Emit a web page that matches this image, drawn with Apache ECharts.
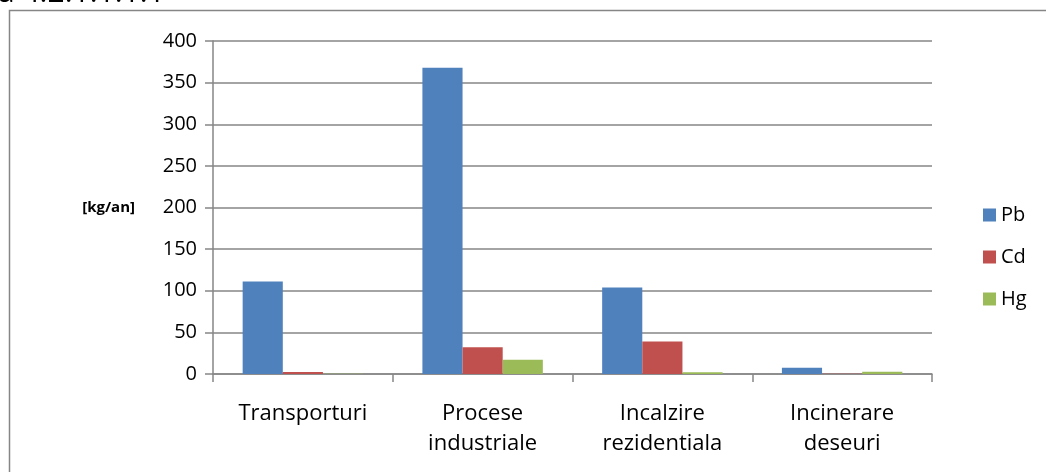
<!DOCTYPE html>
<html>
<head>
<meta charset="utf-8">
<script src="https://cdn.jsdelivr.net/npm/echarts@6/dist/echarts.min.js"></script>
<style>
  html, body { margin: 0; padding: 0; background: #fff; }
  #chart { width: 1046px; height: 472px; }
</style>
</head>
<body>
<div id="chart"></div>
<script>
// Emisii de metale grele pe categorii de surse [kg/an]
const categories = ['Transporturi', 'Procese\nindustriale', 'Incalzire\nrezidentiala', 'Incinerare\ndeseuri'];
const pb = [111, 368, 104, 7.5];
const cd = [2.4, 32, 39, 0.3];
const hg = [0.2, 17, 2, 2.8];
const seriesNames = ['Pb', 'Cd', 'Hg'];
const yTicks = { min: 0, max: 400, interval: 50 };

const axisGray = '#868686';
const font = '"Open Sans", Lato, sans-serif';

const chart = echarts.init(document.getElementById('chart'), null, { renderer: 'canvas' });

chart.setOption({
  animation: false,
  backgroundColor: '#fff',
  textStyle: { fontFamily: font },
  graphic: [
    {
      type: 'rect',
      shape: { x: 9.5, y: 10.5, width: 1100, height: 500 },
      style: { fill: 'none', stroke: axisGray, lineWidth: 1.5 },
      silent: true
    },
    {
      type: 'text',
      left: -2,
      top: -22,
      style: { text: 'a 4.2.1.1.1.1', font: '30px ' + font, fill: '#000' },
      silent: true
    }
  ],
  grid: { left: 213, right: 114, top: 41, bottom: 98, containLabel: false },
  legend: {
    orient: 'vertical',
    left: 978,
    top: 196,
    itemWidth: 13,
    itemHeight: 13,
    itemGap: 14,
    icon: 'rect',
    data: seriesNames,
    textStyle: { fontSize: 20, color: '#000', fontFamily: font, padding: [0, 0, 0, 0], lineHeight: 28 }
  },
  xAxis: {
    type: 'category',
    data: categories,
    boundaryGap: true,
    axisLine: { show: true, lineStyle: { color: axisGray, width: 1.5 } },
    axisTick: { show: true, length: 8, alignWithLabel: false, lineStyle: { color: axisGray, width: 1.5 } },
    axisLabel: { fontSize: 22, color: '#000', margin: 25, lineHeight: 30, fontFamily: font, interval: 0 }
  },
  yAxis: {
    type: 'value',
    min: yTicks.min,
    max: yTicks.max,
    interval: yTicks.interval,
    name: '[kg/an]',
    nameLocation: 'middle',
    nameRotate: 0,
    nameGap: 78,
    nameTextStyle: { fontSize: 15, fontWeight: 'bold', color: '#000', align: 'right', verticalAlign: 'middle', fontFamily: font, padding: [10, 0, 0, 0] },
    axisLine: { show: true, lineStyle: { color: axisGray, width: 1.5 } },
    axisTick: { show: true, length: 8, lineStyle: { color: axisGray, width: 1.5 } },
    axisLabel: { fontSize: 20, color: '#000', margin: 16, fontFamily: font },
    splitLine: { show: true, lineStyle: { color: axisGray, width: 1.5 } }
  },
  series: [
    { name: 'Pb', type: 'bar', data: pb, itemStyle: { color: '#4F81BD' }, barGap: '0%', barCategoryGap: '33%' },
    { name: 'Cd', type: 'bar', data: cd, itemStyle: { color: '#C0504D' }, barGap: '0%', barCategoryGap: '33%' },
    { name: 'Hg', type: 'bar', data: hg, itemStyle: { color: '#9BBB59' }, barGap: '0%', barCategoryGap: '33%' }
  ]
});
</script>
</body>
</html>
